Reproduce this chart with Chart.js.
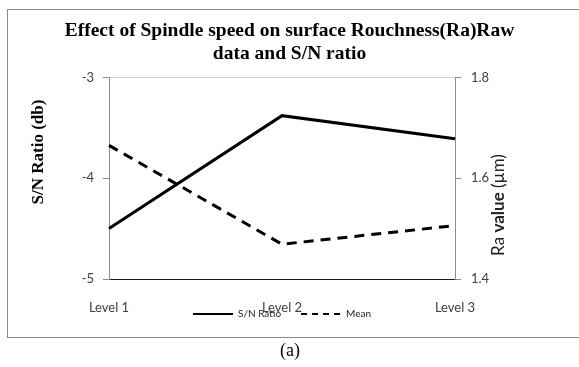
<!DOCTYPE html>
<html>
<head>
<meta charset="utf-8">
<script src="https://cdn.jsdelivr.net/npm/chart.js"></script>
<style>
  html, body { margin: 0; padding: 0; background: #fff; }
  canvas { display: block; }
</style>
</head>
<body>
<canvas id="chart" width="579" height="367"></canvas>
<script>
// values
const levels = ['Level 1', 'Level 2', 'Level 3'];
const snRatio = [-4.50, -3.38, -3.61];
const meanRa = [1.665, 1.469, 1.506];
const snTicks = [-5, -4, -3];
const raTicks = [1.4, 1.6, 1.8];

const titleLines = ['Effect of Spindle speed on surface Rouchness(Ra)Raw', 'data and S/N ratio'];

// draws a rotated line of text made of pieces with their own fonts
function rotatedText(ctx, parts, cx, cy, color) {
  ctx.save();
  let total = 0;
  parts.forEach(p => { ctx.font = p[1]; total += ctx.measureText(p[0]).width; });
  ctx.translate(cx, cy);
  ctx.rotate(-Math.PI / 2);
  ctx.textAlign = 'left';
  ctx.textBaseline = 'middle';
  ctx.fillStyle = color;
  let x = -total / 2;
  parts.forEach(p => {
    ctx.font = p[1];
    ctx.fillText(p[0], x, 0);
    x += ctx.measureText(p[0]).width;
  });
  ctx.restore();
}

// outer frame, caption and the axis titles
const extras = {
  id: 'extras',
  beforeDraw(chart) {
    const ctx = chart.ctx;
    ctx.save();
    ctx.fillStyle = '#fff';
    ctx.fillRect(0, 0, chart.width, chart.height);
    ctx.strokeStyle = '#8a8a8a';
    ctx.lineWidth = 1;
    ctx.strokeRect(7.5, 9.5, 600, 328);
    ctx.restore();
  },
  afterDraw(chart) {
    const ctx = chart.ctx;
    ctx.save();
    ctx.fillStyle = '#000';
    ctx.font = '18px "Liberation Serif"';
    ctx.textAlign = 'center';
    ctx.textBaseline = 'middle';
    ctx.fillText('(a)', 290, 351);
    ctx.restore();

    rotatedText(ctx, [['S/N Ratio (db)', 'bold 17px "Liberation Serif"']], 39, 152, '#000');
    rotatedText(ctx, [
      ['Ra ', '17px Lato'],
      ['value', 'bold 17px Lato'],
      [' (\u00b5m)', '17px Lato']
    ], 499, 205, '#222');
  }
};

const tickFont = { family: 'Lato', size: 13 };

new Chart(document.getElementById('chart'), {
  type: 'line',
  data: {
    labels: levels,
    datasets: [
      {
        label: 'S/N Ratio',
        data: snRatio,
        yAxisID: 'y',
        borderColor: '#000',
        backgroundColor: '#000',
        borderWidth: 3,
        pointRadius: 0,
        tension: 0,
        fill: false
      },
      {
        label: 'Mean',
        data: meanRa,
        yAxisID: 'y1',
        borderColor: '#000',
        backgroundColor: '#000',
        borderWidth: 3,
        borderDash: [10, 7],
        pointRadius: 0,
        tension: 0,
        fill: false
      }
    ]
  },
  options: {
    responsive: false,
    animation: false,
    devicePixelRatio: 1,
    layout: { padding: { top: 8, left: 0, right: 0, bottom: 38 } },
    plugins: {
      title: {
        display: true,
        text: titleLines,
        color: '#000',
        font: { family: 'Liberation Serif', size: 19.5, weight: 'bold', lineHeight: 1.15 },
        padding: { top: 12, bottom: 12.5 }
      },
      legend: {
        position: 'bottom',
        fullSize: false,
        labels: {
          usePointStyle: true,
          pointStyle: 'line',
          pointStyleWidth: 40,
          color: '#222',
          font: { family: 'Lato', size: 10 },
          padding: 20,
          generateLabels(chart) {
            return Chart.defaults.plugins.legend.labels.generateLabels(chart).map(item => {
              const ds = chart.data.datasets[item.datasetIndex];
              return Object.assign(item, {
                lineWidth: 2,
                pointStyle: 'line',
                lineDash: ds.borderDash ? [6, 5] : []
              });
            });
          }
        }
      },
      tooltip: { enabled: false }
    },
    scales: {
      x: {
        type: 'category',
        offset: false,
        grid: { display: false },
        border: { display: true, color: '#1a1a1a', width: 1 },
        // mirrored with a negative padding: labels sit below the axis but are not clipped to the short axis box
        ticks: { font: tickFont, color: '#404040', padding: -37, mirror: true, maxRotation: 0, autoSkip: false },
        afterFit(s) { s.height = 10; }
      },
      y: {
        position: 'left',
        min: snTicks[0],
        max: snTicks[snTicks.length - 1],
        ticks: { stepSize: 1, font: tickFont, color: '#404040', padding: 9 },
        grid: {
          color: c => (c.tick && c.tick.value === snTicks[snTicks.length - 1]) ? '#d4d4d4' : 'rgba(0,0,0,0)',
          tickColor: '#8c8c8c',
          tickLength: 6
        },
        border: { color: '#8c8c8c' },
        afterFit(s) { s.width = 109; }
      },
      y1: {
        position: 'right',
        min: raTicks[0],
        max: raTicks[raTicks.length - 1],
        ticks: {
          stepSize: 0.2,
          font: tickFont,
          color: '#404040',
          padding: 10,
          callback: v => v.toFixed(1)
        },
        grid: { drawOnChartArea: false, color: '#8c8c8c', tickLength: 6 },
        border: { color: '#8c8c8c' },
        afterFit(s) { s.width = 124; }
      }
    }
  },
  plugins: [extras]
});
</script>
</body>
</html>
